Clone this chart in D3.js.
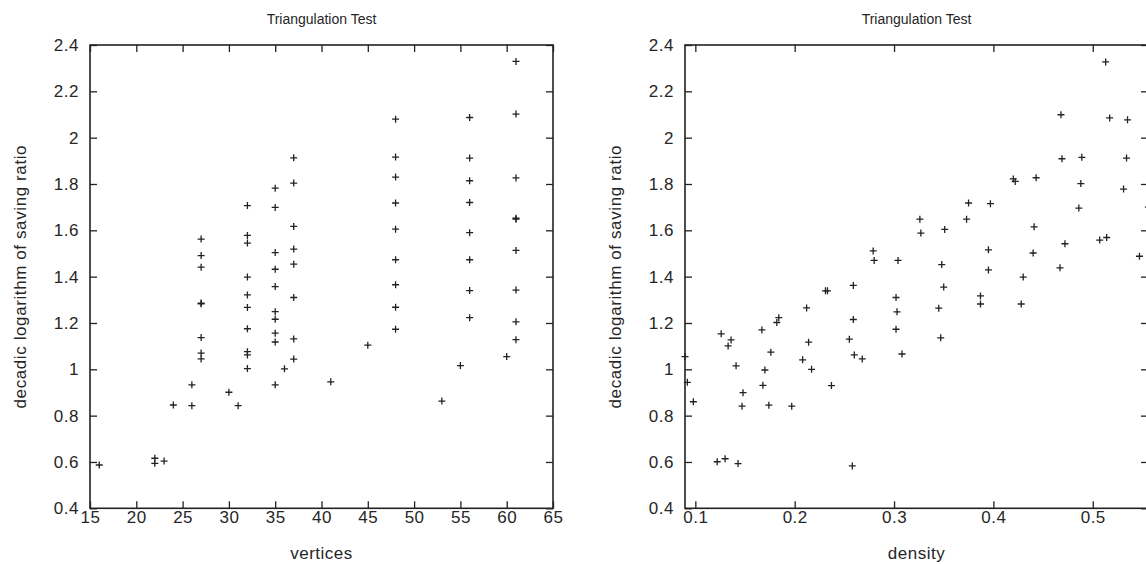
<!DOCTYPE html>
<html>
<head>
<meta charset="utf-8">
<script src="https://cdn.jsdelivr.net/npm/d3@7"></script>
<style>
body { margin: 0; background: #fff; }
svg text { font-family: "Liberation Sans", Arial, sans-serif; fill: #262626; }
</style>
</head>
<body>
<svg width="1146" height="564"></svg>
<script>
// values: [x, decadic log of saving ratio]
var vertexPoints = [
  [16,0.587],
  [22,0.616],[22,0.594],[23,0.604],
  [24,0.846],
  [26,0.933],[26,0.843],
  [27,1.562],[27,1.491],[27,1.441],[27,1.286],[27,1.283],[27,1.137],[27,1.070],[27,1.045],
  [30,0.901],[31,0.843],
  [32,1.707],[32,1.578],[32,1.545],[32,1.398],[32,1.321],[32,1.267],[32,1.175],[32,1.076],[32,1.062],[32,1.003],
  [35,1.782],[35,1.699],[35,1.504],[35,1.432],[35,1.357],[35,1.249],[35,1.216],[35,1.156],[35,1.118],[35,0.933],
  [36,1.002],
  [37,1.913],[37,1.804],[37,1.617],[37,1.519],[37,1.454],[37,1.310],[37,1.131],[37,1.044],
  [41,0.946],[45,1.104],
  [48,2.080],[48,1.916],[48,1.830],[48,1.718],[48,1.605],[48,1.473],[48,1.365],[48,1.268],[48,1.173],
  [53,0.863],[55,1.016],
  [56,2.087],[56,1.912],[56,1.814],[56,1.720],[56,1.590],[56,1.473],[56,1.340],[56,1.223],
  [60,1.055],
  [61,2.329],[61,2.102],[61,1.826],[61,1.652],[61,1.648],[61,1.513],[61,1.342],[61,1.205],[61,1.128]
];

var densityPoints = [
  [0.279,1.511],[0.280,1.470],[0.304,1.470],
  [0.259,1.362],[0.231,1.339],[0.233,1.339],[0.302,1.310],[0.212,1.265],[0.303,1.248],
  [0.184,1.223],[0.182,1.202],[0.259,1.215],[0.167,1.170],[0.302,1.173],[0.126,1.153],
  [0.136,1.127],[0.133,1.101],[0.255,1.130],[0.214,1.117],[0.176,1.074],[0.260,1.062],
  [0.268,1.045],[0.208,1.041],[0.308,1.066],[0.0896,1.055],[0.141,1.015],[0.170,0.997],
  [0.217,1.000],[0.092,0.944],[0.168,0.931],[0.237,0.930],[0.148,0.899],[0.098,0.860],
  [0.147,0.841],[0.174,0.845],[0.197,0.841],[0.122,0.601],[0.130,0.614],[0.143,0.593],[0.258,0.583],
  [0.513,2.327],[0.468,2.099],[0.517,2.085],[0.535,2.077],[0.469,1.909],[0.489,1.915],
  [0.534,1.912],[0.420,1.822],[0.422,1.811],[0.443,1.827],[0.488,1.802],[0.531,1.778],
  [0.375,1.718],[0.397,1.715],[0.486,1.696],[0.326,1.648],[0.373,1.648],[0.327,1.588],
  [0.351,1.604],[0.441,1.615],[0.472,1.542],[0.507,1.558],[0.514,1.569],[0.547,1.488],
  [0.395,1.516],[0.440,1.502],[0.348,1.452],[0.395,1.429],[0.467,1.438],[0.430,1.398],
  [0.556,1.700],[0.350,1.355],[0.345,1.264],[0.387,1.317],[0.387,1.282],[0.428,1.282],[0.347,1.136]
];

var yTicks = [0.4,0.6,0.8,1,1.2,1.4,1.6,1.8,2,2.2,2.4];
var vertexTicks = [15,20,25,30,35,40,45,50,55,60,65];
var densityTicks = [0.1,0.2,0.3,0.4,0.5];

var titleText = "Triangulation Test";
var yTitle = "decadic logarithm of saving ratio";

var plotTop = 45, plotBottom = 508.3, plotW = 463;
var svg = d3.select("svg");

function makePlot(left, pts, xDomain, xTicks, xTitle) {
  var x = d3.scaleLinear().domain(xDomain).range([left, left + plotW]);
  var y = d3.scaleLinear().domain([0.4, 2.4]).range([plotBottom, plotTop]);
  var g = svg.append("g");
  var fmt = d => String(+d.toFixed(1));

  g.append("g").attr("transform", "translate(0," + plotBottom + ")")
    .call(d3.axisBottom(x).tickValues(xTicks).tickSize(-7).tickSizeOuter(0).tickPadding(3).tickFormat(fmt));
  g.append("g").attr("transform", "translate(0," + plotTop + ")")
    .call(d3.axisTop(x).tickValues(xTicks).tickSize(-7).tickSizeOuter(0).tickFormat(""));
  g.append("g").attr("transform", "translate(" + left + ",0)")
    .call(d3.axisLeft(y).tickValues(yTicks).tickSize(-7).tickSizeOuter(0).tickPadding(11).tickFormat(fmt));
  g.append("g").attr("transform", "translate(" + (left + plotW) + ",0)")
    .call(d3.axisRight(y).tickValues(yTicks).tickSize(-7).tickSizeOuter(0).tickFormat(""));

  g.selectAll(".domain").remove();
  g.selectAll(".tick line").attr("stroke", "#222").attr("stroke-width", 1.3);
  g.selectAll(".tick text").attr("font-size", 17).attr("fill", "#262626")
    .attr("letter-spacing", 0.5)
    .style("font-family", "'Liberation Sans', Arial, sans-serif");

  // frame
  g.append("rect").attr("x", left).attr("y", plotTop).attr("width", plotW).attr("height", plotBottom - plotTop)
    .attr("fill", "none").attr("stroke", "#222").attr("stroke-width", 1.6);

  g.append("g").selectAll("path").data(pts).join("path")
    .attr("transform", d => "translate(" + x(d[0]) + "," + y(d[1]) + ")")
    .attr("d", "M-3.5,0H3.5M0,-3.5V3.5")
    .attr("stroke", "#222").attr("stroke-width", 1.3).attr("fill", "none");

  var cx = left + plotW / 2;
  g.append("text").attr("x", cx).attr("y", 24).attr("text-anchor", "middle")
    .attr("font-size", 14).text(titleText);
  g.append("text").attr("x", cx).attr("y", 559).attr("text-anchor", "middle")
    .attr("font-size", 17).attr("letter-spacing", 0.5).text(xTitle);
  g.append("text").attr("transform", "translate(" + (left - 64) + "," + ((plotTop + plotBottom) / 2) + ") rotate(-90)")
    .attr("text-anchor", "middle").attr("font-size", 17).attr("letter-spacing", 0.6).text(yTitle);
}

makePlot(90, vertexPoints, [15, 65], vertexTicks, "vertices");
makePlot(685, densityPoints, [0.0896, 0.5556], densityTicks, "density");
</script>
</body>
</html>
